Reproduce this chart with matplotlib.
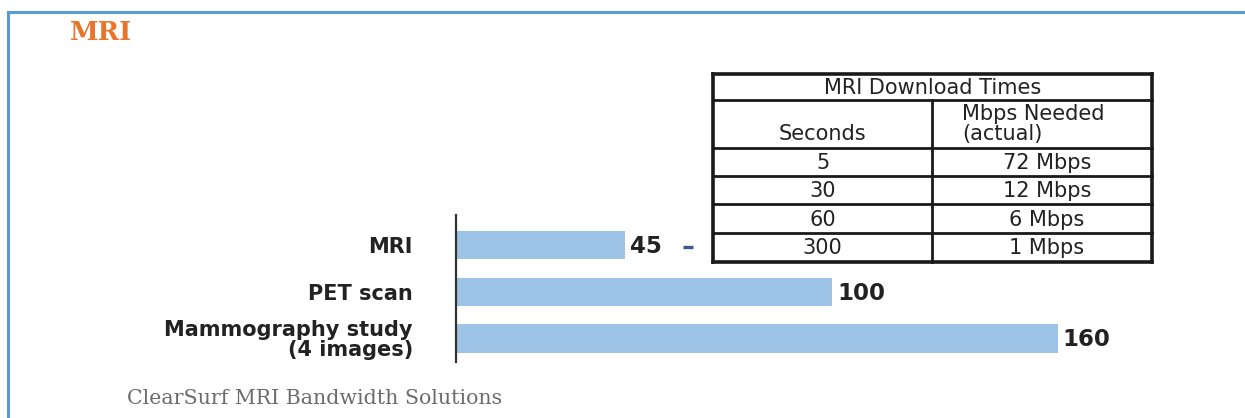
import matplotlib
matplotlib.use("Agg")
import matplotlib.pyplot as plt
from matplotlib.lines import Line2D

categories = ["MRI", "PET scan", "Mammography study\n(4 images)"]
values = [45, 100, 160]
value_labels = ["45", "100", "160"]

table_title = "MRI Download Times"
table_headers = ["Seconds", "Mbps Needed\n(actual)"]
table_seconds = ["5", "30", "60", "300"]
table_mbps = ["72 Mbps", "12 Mbps", "6 Mbps", "1 Mbps"]

W, H = 1245, 418
fig = plt.figure(figsize=(W / 100, H / 100), dpi=100)
fig.patch.set_facecolor("white")

def fx(px):
    return px / W

def fy(py):
    return 1 - py / H

# Outer frame (top and left blue lines)
fig.add_artist(Line2D([fx(8), fx(8)], [fy(12), fy(418)], color="#5B9BD5", lw=2.2))
fig.add_artist(Line2D([fx(8), fx(1245)], [fy(12), fy(12)], color="#5B9BD5", lw=2.2))

# Title and footer
fig.text(fx(70), fy(33), "MRI", color="#E8752A", fontsize=18.5, fontweight="bold",
         family="DejaVu Serif", va="center", ha="left")
fig.text(fx(127), fy(398), "ClearSurf MRI Bandwidth Solutions", color="#6b6b6b",
         fontsize=14.8, family="DejaVu Serif", va="center", ha="left")

# Bar chart axes
left, right = 456, 1208
top, bottom = 215, 362
ax = fig.add_axes([fx(left), fy(bottom), fx(right - left), (bottom - top) / H])
ax.set_xlim(0, 200)
ax.set_ylim(2.503, -0.642)
ax.barh(range(len(values)), values, height=0.6, color="#9DC3E6", left=0)
for s in ["top", "right", "bottom"]:
    ax.spines[s].set_visible(False)
ax.spines["left"].set_linewidth(1.6)
ax.spines["left"].set_color("#333333")
ax.set_xticks([])
ax.set_yticks(range(len(categories)))
ax.set_yticklabels(categories, fontsize=15, fontweight="bold", family="DejaVu Sans",
                   color="#222222", linespacing=0.95)
ax.tick_params(axis="y", length=0, pad=31)
ax.patch.set_alpha(0)
for i, (v, lab) in enumerate(zip(values, value_labels)):
    ax.text(v + 1.3, i + 0.03, lab, va="center", ha="left", fontsize=16.5, fontweight="bold",
            family="DejaVu Sans", color="#222222")
# dash connector after MRI value
ax.plot([60.3, 62.9], [0.05, 0.05], color="#3a5a8c", lw=2.4, solid_capstyle="butt")

# Table
tl, tr, tt, tb = 713, 1152, 74, 262
cdiv = 932
rows_y = [74, 100, 148, 176, 204, 233, 262]
lc = "#1a1a1a"
def hline(y, x0, x1, lw):
    fig.add_artist(Line2D([fx(x0), fx(x1)], [fy(y), fy(y)], color=lc, lw=lw))
def vline(x, y0, y1, lw):
    fig.add_artist(Line2D([fx(x), fx(x)], [fy(y0), fy(y1)], color=lc, lw=lw))

for y in rows_y:
    lw = 2.6 if y in (tt, tb) else 2.0
    hline(y, tl, tr, lw)
vline(tl, tt, tb, 2.6)
vline(tr, tt, tb, 2.6)
vline(cdiv, rows_y[1], tb, 2.0)

tfont = dict(family="DejaVu Sans", fontsize=15, color="#222222")
fig.text(fx((tl + tr) / 2), fy((rows_y[0] + rows_y[1]) / 2 + 1), table_title,
         ha="center", va="center", **tfont)
fig.text(fx((tl + cdiv) / 2), fy(134), table_headers[0], ha="center", va="center", **tfont)
fig.text(fx(962), fy(124), table_headers[1], ha="left", va="center",
         linespacing=0.95, **tfont)
for i, (s, m) in enumerate(zip(table_seconds, table_mbps)):
    yc = (rows_y[i + 2] + rows_y[i + 3]) / 2 + 1
    fig.text(fx((tl + cdiv) / 2), fy(yc), s, ha="center", va="center", **tfont)
    fig.text(fx(1047), fy(yc), m, ha="center", va="center", **tfont)

fig.savefig("out.png", dpi=100, facecolor="white")
